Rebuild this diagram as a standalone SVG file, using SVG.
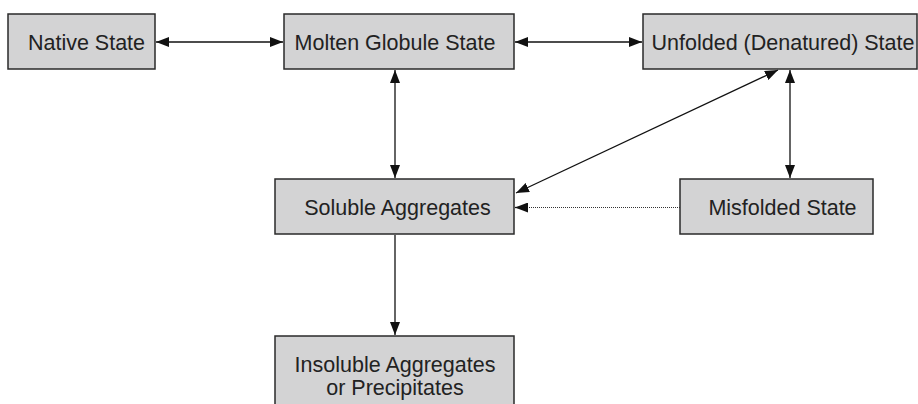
<svg xmlns="http://www.w3.org/2000/svg" width="918" height="404" viewBox="0 0 918 404">
<defs>
<style>
.box{fill:#d3d3d4;stroke:#2a2a2a;stroke-width:1.5}
.lbl{font-family:"Liberation Sans",Arial,sans-serif;font-size:21.5px;fill:#222;text-anchor:middle}
.ln{stroke:#111;stroke-width:1.3;fill:none}
.dot{stroke:#333;stroke-width:1;stroke-dasharray:1,1;fill:none}
</style>
<marker id="ah" viewBox="0 0 13 10" refX="13" refY="5" markerWidth="13" markerHeight="10" markerUnits="userSpaceOnUse" orient="auto-start-reverse">
<path d="M0,0 L13,5 L0,10 z" fill="#111"/>
</marker>
</defs>
<rect width="918" height="404" fill="#fff"/>
<g id="connectors">
<line class="ln" x1="156" y1="42" x2="283" y2="42" marker-start="url(#ah)" marker-end="url(#ah)"/>
<line class="ln" x1="515" y1="42" x2="642" y2="42" marker-start="url(#ah)" marker-end="url(#ah)"/>
<line class="ln" x1="395" y1="70" x2="395" y2="178" marker-start="url(#ah)" marker-end="url(#ah)"/>
<line class="ln" x1="790" y1="70" x2="790" y2="178" marker-start="url(#ah)" marker-end="url(#ah)"/>
<line class="ln" x1="516" y1="193" x2="778" y2="70" marker-start="url(#ah)" marker-end="url(#ah)"/>
<line class="dot" x1="680" y1="207.5" x2="527" y2="207.5"/>
<line class="ln" x1="528" y1="207.5" x2="515" y2="207.5" marker-end="url(#ah)" stroke-width="0.5"/>
<line class="ln" x1="395" y1="235" x2="395" y2="335" marker-end="url(#ah)"/>
</g>
<g id="native"><rect class="box" x="8" y="14" width="147" height="55"/><text class="lbl" x="86.5" y="49.5">Native State</text></g>
<g id="molten"><rect class="box" x="284" y="14" width="230" height="55"/><text class="lbl" x="395" y="49.5">Molten Globule State</text></g>
<g id="unfolded"><rect class="box" x="643" y="14" width="274" height="55"/><text class="lbl" x="783" y="49.5">Unfolded (Denatured) State</text></g>
<g id="soluble"><rect class="box" x="275" y="179" width="239" height="55"/><text class="lbl" x="397.5" y="215">Soluble Aggregates</text></g>
<g id="misfolded"><rect class="box" x="680" y="179" width="193" height="55"/><text class="lbl" x="782.5" y="215">Misfolded State</text></g>
<g id="insoluble"><rect class="box" x="275" y="336" width="239" height="80"/><text class="lbl" x="395" y="372">Insoluble Aggregates</text><text class="lbl" x="395" y="395">or Precipitates</text></g>
</svg>
